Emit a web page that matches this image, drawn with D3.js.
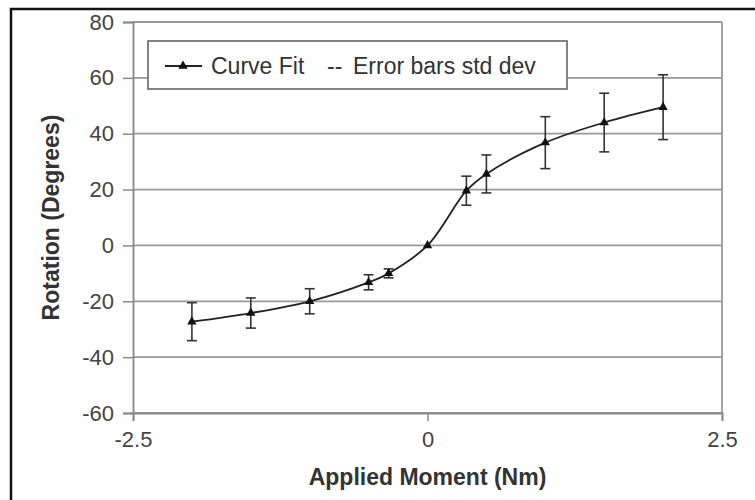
<!DOCTYPE html>
<html>
<head>
<meta charset="utf-8">
<script src="https://cdn.jsdelivr.net/npm/d3@7"></script>
<style>
  body { margin: 0; background: #fff; }
  text { font-family: "Liberation Sans", Arial, sans-serif; }
</style>
</head>
<body>
<div id="chart"></div>
<script>
const width = 755;
const height = 500;

// data
const moment = [-2, -1.5, -1, -0.5, -0.33, 0, 0.33, 0.5, 1, 1.5, 2];
const rotation = [-27.3, -24.2, -20, -13.2, -10, 0, 19.6, 25.6, 36.8, 44, 49.5];
const stdDev = [6.8, 5.4, 4.5, 2.7, 1.6, 0, 5.2, 6.8, 9.3, 10.5, 11.6];
const xTicks = [-2.5, 0, 2.5];
const yTicks = [-60, -40, -20, 0, 20, 40, 60, 80];

const points = moment.map((m, i) => ({ x: m, y: rotation[i], sd: stdDev[i] }));

const svg = d3.select("#chart")
    .append("svg")
    .attr("width", width)
    .attr("height", height);

// outer frame (only left/top visible in the scan)
svg.append("rect")
    .attr("x", 11).attr("y", 9)
    .attr("width", 800).attr("height", 600)
    .attr("fill", "none")
    .attr("stroke", "#111")
    .attr("stroke-width", 2.5);

const x = d3.scaleLinear().domain([-2.5, 2.5]).range([133, 722]);
const y = d3.scaleLinear().domain([-60, 80]).range([413, 22]);

// gridlines
svg.append("g")
    .selectAll("line")
    .data(yTicks)
    .enter()
    .append("line")
    .attr("x1", x(-2.5)).attr("x2", x(2.5))
    .attr("y1", d => y(d)).attr("y2", d => y(d))
    .attr("stroke", "#999")
    .attr("stroke-width", 1.8);

// right border of plot area
svg.append("line")
    .attr("x1", x(2.5)).attr("x2", x(2.5))
    .attr("y1", y(80)).attr("y2", y(-60))
    .attr("stroke", "#999")
    .attr("stroke-width", 1.8);

// axes - plain hyphen for negatives like the original
const hyphen = d => String(d);

const yAxis = svg.append("g")
    .attr("transform", `translate(${x(-2.5)},0)`)
    .call(d3.axisLeft(y).tickValues(yTicks).tickSize(10).tickPadding(9).tickFormat(hyphen));

const xAxis = svg.append("g")
    .attr("transform", `translate(0,${y(-60)})`)
    .call(d3.axisBottom(x).tickValues(xTicks).tickSize(8).tickPadding(10).tickFormat(hyphen));

[yAxis, xAxis].forEach(ax => {
    ax.select(".domain").attr("stroke", "#888").attr("stroke-width", 1.8);
    ax.selectAll(".tick line").attr("stroke", "#888").attr("stroke-width", 1.5);
    ax.selectAll(".tick text")
        .attr("fill", "#444")
        .style("font-size", "22px")
        .style("font-family", "'Liberation Sans', Arial, sans-serif");
});

// axis titles
svg.append("text")
    .attr("x", x(0)).attr("y", 485)
    .attr("text-anchor", "middle")
    .attr("fill", "#333")
    .style("font-size", "23px")
    .style("font-weight", "bold")
    .text("Applied Moment (Nm)");

svg.append("text")
    .attr("transform", `translate(59,${(y(80) + y(-60)) / 2}) rotate(-90)`)
    .attr("text-anchor", "middle")
    .attr("fill", "#333")
    .style("font-size", "23px")
    .style("font-weight", "bold")
    .text("Rotation (Degrees)");

// error bars
const eb = svg.append("g")
    .selectAll("g")
    .data(points.filter(d => d.sd > 0))
    .enter()
    .append("g")
    .attr("stroke", "#333")
    .attr("stroke-width", 1.6);

eb.append("line")
    .attr("x1", d => x(d.x)).attr("x2", d => x(d.x))
    .attr("y1", d => y(d.y + d.sd)).attr("y2", d => y(d.y - d.sd));
eb.append("line")
    .attr("x1", d => x(d.x) - 5).attr("x2", d => x(d.x) + 5)
    .attr("y1", d => y(d.y + d.sd)).attr("y2", d => y(d.y + d.sd));
eb.append("line")
    .attr("x1", d => x(d.x) - 5).attr("x2", d => x(d.x) + 5)
    .attr("y1", d => y(d.y - d.sd)).attr("y2", d => y(d.y - d.sd));

// curve fit
const line = d3.line()
    .x(d => x(d.x))
    .y(d => y(d.y))
    .curve(d3.curveCatmullRom.alpha(0.5));

svg.append("path")
    .datum(points)
    .attr("d", line)
    .attr("fill", "none")
    .attr("stroke", "#222")
    .attr("stroke-width", 1.8);

const tri = d3.symbol(d3.symbolTriangle).size(38);

svg.append("g")
    .selectAll("path")
    .data(points)
    .enter()
    .append("path")
    .attr("d", tri)
    .attr("transform", d => `translate(${x(d.x)},${y(d.y)})`)
    .attr("fill", "#111");

// legend
const legend = svg.append("g");
legend.append("rect")
    .attr("x", 148).attr("y", 41)
    .attr("width", 419).attr("height", 48)
    .attr("fill", "#fff")
    .attr("stroke", "#777")
    .attr("stroke-width", 1.8);

legend.append("line")
    .attr("x1", 165).attr("x2", 202)
    .attr("y1", 66).attr("y2", 66)
    .attr("stroke", "#222")
    .attr("stroke-width", 1.8);
legend.append("path")
    .attr("d", tri)
    .attr("transform", "translate(183,66)")
    .attr("fill", "#111");

legend.append("text")
    .attr("x", 211).attr("y", 74)
    .attr("fill", "#333")
    .style("font-size", "23px")
    .text("Curve Fit");

legend.append("text")
    .attr("x", 327).attr("y", 74)
    .attr("fill", "#333")
    .style("font-size", "23px")
    .text("--");

legend.append("text")
    .attr("x", 353).attr("y", 74)
    .attr("fill", "#333")
    .style("font-size", "23px")
    .text("Error bars std dev");
</script>
</body>
</html>
